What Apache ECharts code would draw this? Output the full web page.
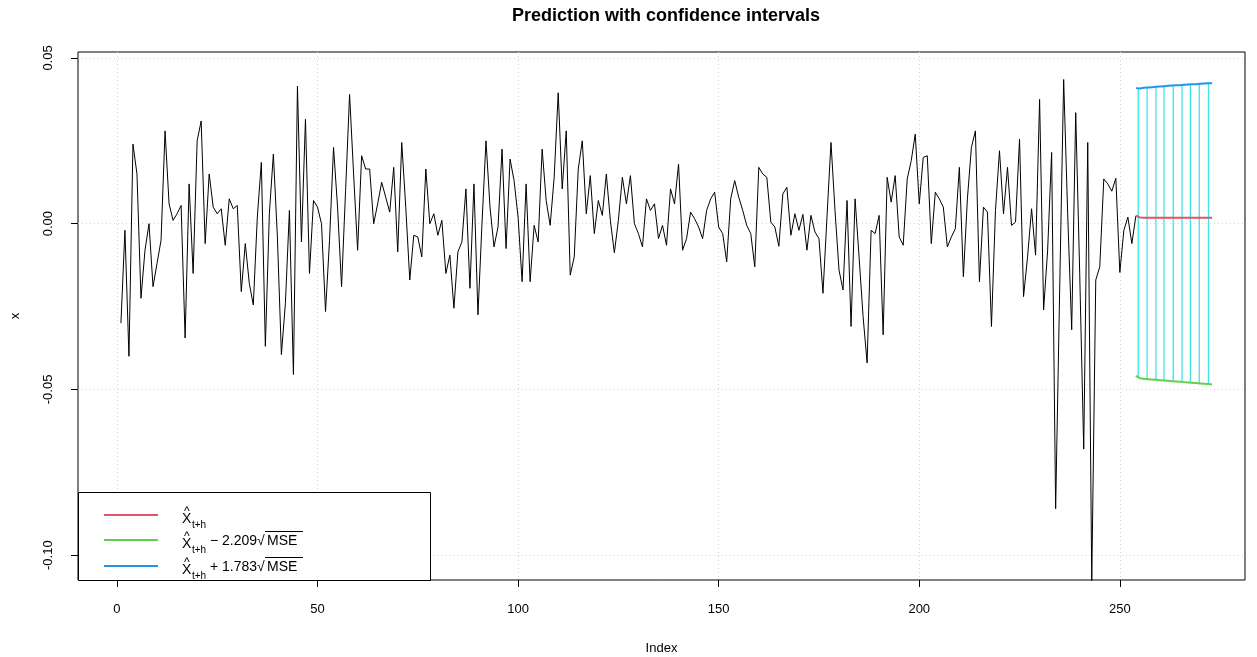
<!DOCTYPE html>
<html>
<head>
<meta charset="utf-8">
<script src="https://cdn.jsdelivr.net/npm/echarts@6/dist/echarts.min.js"></script>
<style>
  html, body { margin: 0; padding: 0; background: #ffffff; }
  #chart { width: 1257px; height: 657px; }
</style>
</head>
<body>
<div id="chart"></div>
<script>
// Tick positions for both axes
const xTicks = [0, 50, 100, 150, 200, 250];
const yTicks = [-0.10, -0.05, 0.00, 0.05];

// Observed series, index 1..254
const observed = [
  -0.030, -0.002, -0.040, 0.024, 0.015, -0.0225, -0.008, 0.000, -0.019, -0.012,
  -0.005, 0.028, 0.006, 0.001, 0.003, 0.0055, -0.0345, 0.012, -0.015, 0.025,
  0.031, -0.006, 0.015, 0.005, 0.003, 0.0045, -0.0065, 0.0075, 0.0045, 0.0055,
  -0.0205, -0.006, -0.018, -0.0245, 0.002, 0.0185, -0.037, 0.003, 0.021, -0.004,
  -0.0395, -0.024, 0.004, -0.0455, 0.0415, -0.0055, 0.0315, -0.015, 0.007, 0.005,
  0.000, -0.0265, -0.005, 0.023, 0.005, -0.019, 0.010, 0.039, 0.015, -0.008,
  0.0205, 0.0165, 0.0165, 0.000, 0.006, 0.0125, 0.008, 0.0035, 0.017, -0.0085,
  0.0245, 0.005, -0.017, -0.0035, -0.004, -0.010, 0.0165, 0.000, 0.003, -0.0035,
  0.001, -0.015, -0.0095, -0.0255, -0.0085, -0.0055, 0.0105, -0.0195, 0.012, -0.0275,
  0.000, 0.025, 0.005, -0.007, -0.001, 0.0225, -0.0075, 0.0195, 0.013, 0.002,
  -0.0175, 0.012, -0.0175, -0.0005, -0.0055, 0.0225, 0.007, -0.0005, 0.014, 0.0395,
  0.0105, 0.028, -0.0155, -0.010, 0.0165, 0.025, 0.003, 0.0145, -0.003, 0.007,
  0.0025, 0.015, 0.001, -0.0088, 0.001, 0.014, 0.006, 0.0145, 0.000, -0.003,
  -0.007, 0.0075, 0.004, 0.006, -0.0045, -0.0005, -0.0065, 0.0105, 0.006, 0.018,
  -0.008, -0.0045, 0.0035, 0.0015, -0.001, -0.0045, 0.004, 0.0075, 0.0095, -0.001,
  -0.003, -0.0115, 0.0075, 0.013, 0.008, 0.004, -0.0005, -0.003, -0.013, 0.017,
  0.015, 0.014, 0.0005, -0.001, -0.0068, 0.009, 0.011, -0.0035, 0.003, -0.002,
  0.0028, -0.008, 0.0025, -0.0025, -0.0045, -0.021, 0.002, 0.0245, 0.004, -0.014,
  -0.020, 0.007, -0.031, 0.0075, -0.010, -0.028, -0.042, -0.002, -0.003, 0.0025,
  -0.0335, 0.014, 0.0065, 0.0145, -0.004, -0.0065, 0.0135, 0.019, 0.027, 0.006,
  0.020, 0.0205, -0.006, 0.0095, 0.0075, 0.005, -0.007, -0.004, -0.0015, 0.017,
  -0.016, 0.0075, 0.023, 0.028, -0.0175, 0.005, 0.0035, -0.031, 0.004, 0.022,
  0.003, 0.017, -0.0005, 0.0005, 0.0255, -0.022, -0.010, 0.0045, -0.0095, 0.0375,
  -0.026, -0.008, 0.0215, -0.086, -0.020, 0.0435, 0.003, -0.032, 0.0335, -0.015,
  -0.068, 0.0245, -0.108, -0.017, -0.013, 0.0135, 0.012, 0.0098, 0.0137, -0.0147,
  -0.002, 0.002, -0.006, 0.0024
];

// Forecast horizon and bands
const forecastIdx = [254, 255, 256, 257, 258, 259, 260, 261, 262, 263,
                     264, 265, 266, 267, 268, 269, 270, 271, 272, 273];
const forecastMean = [0.0024, 0.0019, 0.0018, 0.0018, 0.0018, 0.0018, 0.0018, 0.0018, 0.0018, 0.0018,
                      0.0018, 0.0018, 0.0018, 0.0018, 0.0018, 0.0018, 0.0018, 0.0018, 0.0018, 0.0018];
const lowerBand = [-0.0459, -0.0466, -0.0468, -0.0469, -0.0470, -0.0471, -0.0472, -0.0473, -0.0474, -0.0475,
                   -0.0476, -0.0477, -0.0478, -0.0479, -0.0480, -0.0481, -0.0482, -0.0483, -0.0484, -0.0485];
const upperBand = [0.0409, 0.0408, 0.0410, 0.0411, 0.0412, 0.0413, 0.0414, 0.0415, 0.0416, 0.0417,
                   0.0418, 0.0418, 0.0419, 0.0420, 0.0421, 0.0421, 0.0422, 0.0423, 0.0424, 0.0424];
// Positions of the hatching strokes across the band
const hatchIdx = [254.6, 256.8, 259.0, 261.0, 263.3, 265.5, 267.6, 269.8, 272.1];

const legendLabels = ['\u2212 2.209', '+ 1.783'];

const FONT = '"Liberation Sans", Arial, Helvetica, sans-serif';

function bandAt(arr, x) {
  for (let k = 0; k < forecastIdx.length - 1; k++) {
    if (x >= forecastIdx[k] && x <= forecastIdx[k + 1]) {
      const t = (x - forecastIdx[k]) / (forecastIdx[k + 1] - forecastIdx[k]);
      return arr[k] + t * (arr[k + 1] - arr[k]);
    }
  }
  return arr[arr.length - 1];
}

const obsData = observed.map((v, i) => [i + 1, v]);
const meanData = forecastIdx.map((x, i) => [x, forecastMean[i]]);
const lowData = forecastIdx.map((x, i) => [x, lowerBand[i]]);
const upData = forecastIdx.map((x, i) => [x, upperBand[i]]);
const hatchData = hatchIdx.map(x => [x, bandAt(lowerBand, x), bandAt(upperBand, x)]);

const chart = echarts.init(document.getElementById('chart'), null, { renderer: 'canvas' });

// Legend panel in the bottom-left corner
const legendX = 78, legendY = 492, legendW = 352, legendH = 88;
const rowY = [515, 540, 566];
const rowColors = ['#DF536B', '#61D04F', '#2297E6'];
const legendEls = [
  { type: 'rect', shape: { x: legendX + 0.5, y: legendY + 0.5, width: legendW, height: legendH },
    style: { fill: '#ffffff', stroke: '#000000', lineWidth: 1 }, z: 100 }
];
rowY.forEach((y, r) => {
  legendEls.push({ type: 'line', shape: { x1: 104, y1: y, x2: 158, y2: y },
    style: { stroke: rowColors[r], lineWidth: 2 }, z: 101 });
  legendEls.push({ type: 'text', x: 182, y: y + 4,
    style: { text: 'X', font: '14px ' + FONT, fill: '#000', textVerticalAlign: 'middle' }, z: 101 });
  legendEls.push({ type: 'text', x: 184, y: y - 3,
    style: { text: '^', font: '12px ' + FONT, fill: '#000', textVerticalAlign: 'middle' }, z: 101 });
  legendEls.push({ type: 'text', x: 192, y: y + 10,
    style: { text: 't+h', font: '10px ' + FONT, fill: '#000', textVerticalAlign: 'middle' }, z: 101 });
  if (r > 0) {
    legendEls.push({ type: 'text', x: 210, y: y + 1,
      style: { text: legendLabels[r - 1], font: '14px ' + FONT, fill: '#000', textVerticalAlign: 'middle' }, z: 101 });
    legendEls.push({ type: 'text', x: 257, y: y + 1,
      style: { text: '\u221A', font: '14px ' + FONT, fill: '#000', textVerticalAlign: 'middle' }, z: 101 });
    legendEls.push({ type: 'line', shape: { x1: 265, y1: y - 8.5, x2: 303, y2: y - 8.5 },
      style: { stroke: '#000', lineWidth: 1 }, z: 101 });
    legendEls.push({ type: 'text', x: 267, y: y + 1,
      style: { text: 'MSE', font: '14px ' + FONT, fill: '#000', textVerticalAlign: 'middle' }, z: 101 });
  }
});

const option = {
  backgroundColor: '#ffffff',
  animation: false,
  grid: {
    left: 78, right: 12, top: 52, bottom: 77,
    outerBoundsMode: 'none', containLabel: false,
    show: true, borderColor: '#000000', borderWidth: 1, backgroundColor: 'transparent'
  },
  xAxis: {
    type: 'value', min: -9.7, max: 281.2, position: 'bottom',
    name: 'Index', nameLocation: 'middle', nameGap: 62,
    nameTextStyle: { color: '#000', fontFamily: FONT, fontSize: 13 },
    axisLine: { show: false, onZero: false },
    axisTick: { show: true, inside: false, length: 7, customValues: xTicks,
      lineStyle: { color: '#000', width: 1 } },
    axisLabel: { customValues: xTicks, margin: 23, color: '#000', fontFamily: FONT, fontSize: 13,
      formatter: v => String(v) },
    splitLine: { show: true, lineStyle: { color: '#d3d3d3', type: [1, 3], width: 1 } }
  },
  yAxis: {
    type: 'value', min: -0.1075, max: 0.0518, position: 'left',
    name: 'x', nameLocation: 'middle', nameGap: 56, nameRotate: 90,
    nameTextStyle: { color: '#000', fontFamily: FONT, fontSize: 13 },
    axisLine: { show: false, onZero: false },
    axisTick: { show: true, inside: false, length: 7, customValues: yTicks,
      lineStyle: { color: '#000', width: 1 } },
    axisLabel: { customValues: yTicks, rotate: 90, margin: 23, color: '#000', fontFamily: FONT, fontSize: 13,
      formatter: v => v.toFixed(2) },
    splitLine: { show: true, lineStyle: { color: '#d3d3d3', type: [1, 3], width: 1 } }
  },
  graphic: [
    { type: 'text', x: 666, y: 16,
      style: { text: 'Prediction with confidence intervals', font: 'bold 18px ' + FONT,
        fill: '#000', textAlign: 'center', textVerticalAlign: 'middle' } },
    ...legendEls
  ],
  series: [
    { name: 'observed', type: 'line', data: obsData, showSymbol: false, clip: true,
      lineStyle: { color: '#000000', width: 1 }, z: 2 },
    { name: 'hatch', type: 'custom', data: hatchData, clip: true, z: 3,
      renderItem: (params, api) => {
        const p1 = api.coord([api.value(0), api.value(1)]);
        const p2 = api.coord([api.value(0), api.value(2)]);
        return { type: 'line', shape: { x1: p1[0], y1: p1[1], x2: p2[0], y2: p2[1] },
          style: { stroke: '#28E2E5', lineWidth: 1.3, opacity: 0.9 } };
      } },
    { name: 'mean', type: 'line', data: meanData, showSymbol: false,
      lineStyle: { color: '#DF536B', width: 2 }, z: 4 },
    { name: 'lower', type: 'line', data: lowData, showSymbol: false,
      lineStyle: { color: '#61D04F', width: 2 }, z: 4 },
    { name: 'upper', type: 'line', data: upData, showSymbol: false,
      lineStyle: { color: '#2297E6', width: 2 }, z: 4 }
  ]
};

chart.setOption(option);
</script>
</body>
</html>
